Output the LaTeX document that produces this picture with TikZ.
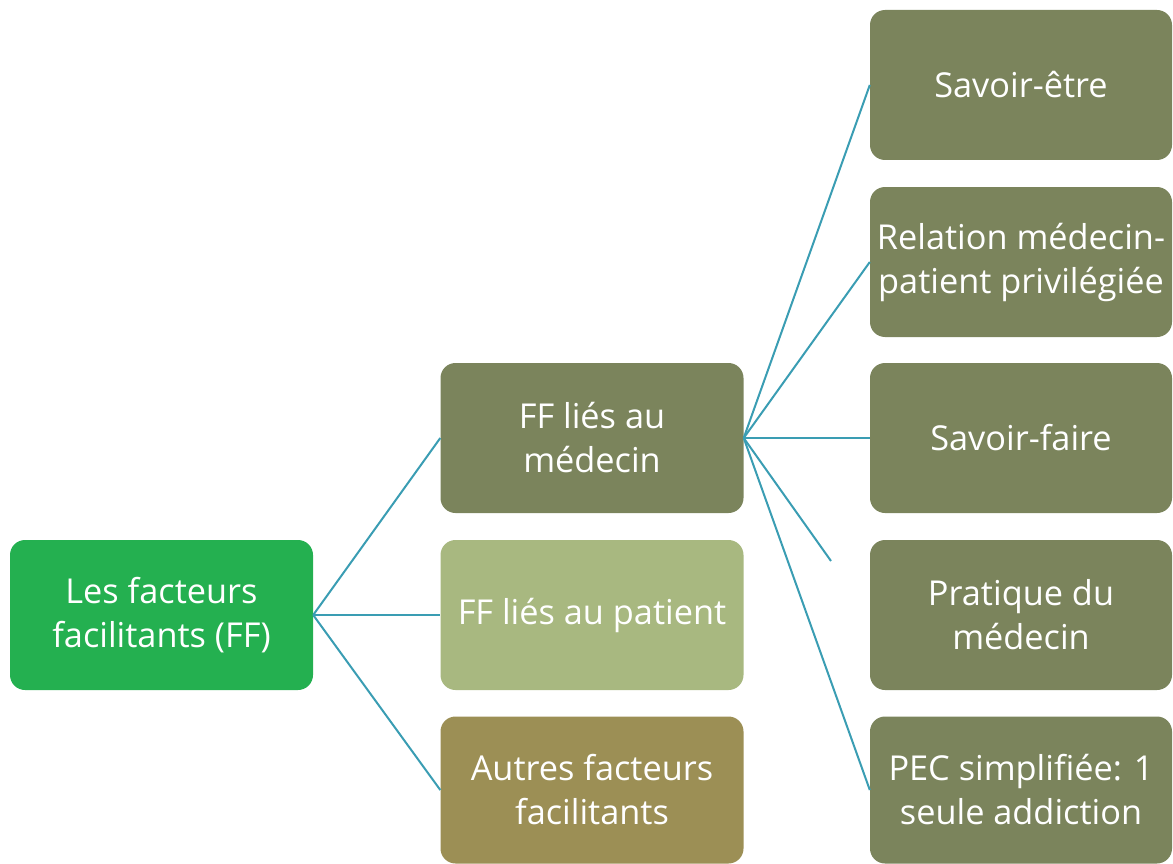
\documentclass[tikz,border=0pt]{standalone}
\usepackage{fontspec}
\setmainfont{Open Sans}
\definecolor{rootgreen}{HTML}{24B050}
\definecolor{olive}{HTML}{7B845C}
\definecolor{lightolive}{HTML}{A8B880}
\definecolor{khaki}{HTML}{9C8F55}
\definecolor{linkteal}{HTML}{3A9DB3}
\begin{document}
\begin{tikzpicture}[x=1pt,y=-1pt,
  box/.style={rectangle, rounded corners=15pt, inner sep=0pt, minimum width=303pt, minimum height=150pt,
    align=center, text=white, font=\fontsize{34.3}{44}\selectfont},
  link/.style={draw=linkteal, line width=2pt}]
\useasboundingbox (0,0) rectangle (1173,864);
\node[box, fill=rootgreen] (root) at (161.5,615) {Les facteurs\\facilitants (FF)};
\node[box, fill=olive] (med) at (592,438) {FF liés au\\médecin};
\node[box, fill=lightolive] (pat) at (592,615) {FF liés au patient};
\node[box, fill=khaki, minimum height=147pt] (aut) at (592,790) {Autres facteurs\\facilitants};
\node[box, fill=olive, minimum width=302pt] (r1) at (1021,85) {Savoir-être};
\node[box, fill=olive, minimum width=302pt] (r2) at (1021,262) {Relation médecin-\\patient privilégiée};
\node[box, fill=olive, minimum width=302pt] (r3) at (1021,438) {Savoir-faire};
\node[box, fill=olive, minimum width=302pt] (r4) at (1021,615) {Pratique du\\médecin};
\node[box, fill=olive, minimum width=302pt, minimum height=147pt] (r5) at (1021,790) {PEC simplifiée: 1\\seule addiction};
\coordinate (r4end) at (831,561);
\draw[link] (root.east) -- (med.west);
\draw[link] (root.east) -- (pat.west);
\draw[link] (root.east) -- (aut.west);
\draw[link] (med.east) -- (r1.west);
\draw[link] (med.east) -- (r2.west);
\draw[link] (med.east) -- (r3.west);
\draw[link] (med.east) -- (r4end);
\draw[link] (med.east) -- (r5.west);
\end{tikzpicture}
\end{document}
